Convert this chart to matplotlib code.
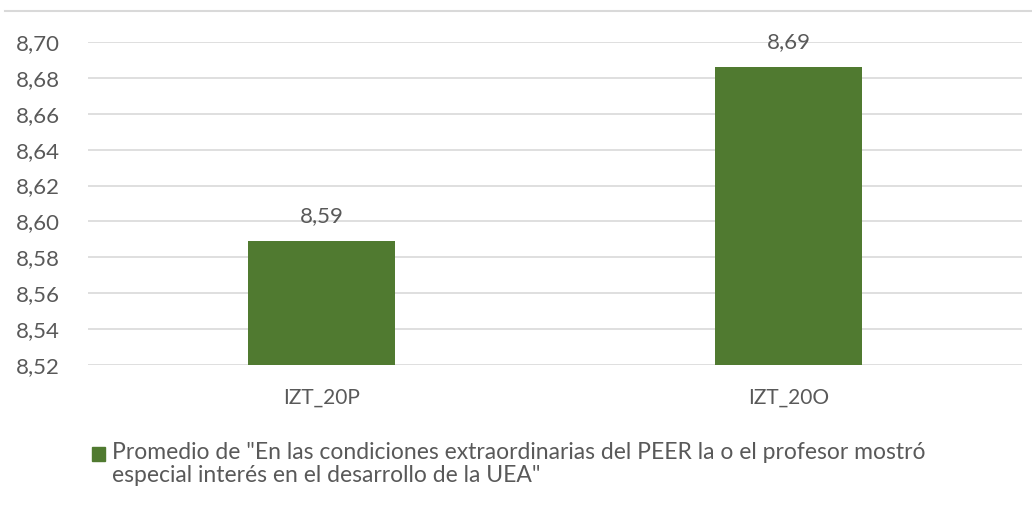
import matplotlib
matplotlib.use('Agg')
import matplotlib.pyplot as plt
from matplotlib.patches import Rectangle
from matplotlib.lines import Line2D

categories = ['IZT_20P', 'IZT_20O']
values = [8.589, 8.686]
value_labels = ['8,59', '8,69']
yticks = [8.52, 8.54, 8.56, 8.58, 8.60, 8.62, 8.64, 8.66, 8.68, 8.70]
legend_label = ('Promedio de "En las condiciones extraordinarias del PEER la o el profesor mostró\n'
                'especial interés en el desarrollo de la UEA"')

green = '#507a30'
text_gray = '#595959'
grid_gray = '#d9d9d9'

plt.rcParams['font.family'] = ['Lato', 'DejaVu Sans']

fig = plt.figure(figsize=(10.32, 5.18), dpi=100)
ax = fig.add_axes([88 / 1032, 1 - 365 / 518, 934 / 1032, 323 / 518])

x = range(len(categories))
bars = ax.bar(x, [v - 8.52 for v in values], bottom=8.52, width=0.315, color=green, zorder=2)
ax.set_xlim(-0.5, 1.5)
ax.set_ylim(8.52, 8.70)
ax.set_yticks(yticks)
ax.set_yticklabels([('%.2f' % t).replace('.', ',') for t in yticks], fontsize=16, color=text_gray)
ax.set_xticks(list(x))
ax.set_xticklabels(categories, fontsize=15, color=text_gray)
ax.tick_params(length=0, axis='y', pad=20)
ax.tick_params(length=0, axis='x', pad=16)
ax.yaxis.grid(True, color=grid_gray, linewidth=1.2, zorder=0)
ax.set_axisbelow(True)
for s in ax.spines.values():
    s.set_visible(False)

for b, lab in zip(bars, value_labels):
    ax.annotate(lab, (b.get_x() + b.get_width() / 2, b.get_y() + b.get_height()),
                xytext=(0, 11), textcoords='offset points', ha='center', va='bottom',
                fontsize=16, color=text_gray, annotation_clip=False)

# top border left from the cropped title area
fig.add_artist(Line2D([5 / 1032, 1], [1 - 11 / 518, 1 - 11 / 518], color=grid_gray, linewidth=1.5))

# legend
fig.add_artist(Rectangle((92 / 1032, 1 - 461 / 518), 13 / 1032, 14 / 518, color=green))
fig.text(112 / 1032, 1 - 442 / 518, legend_label, fontsize=16.5, color=text_gray,
         va='top', ha='left', linespacing=1.12)

fig.savefig('out.png', dpi=100)
